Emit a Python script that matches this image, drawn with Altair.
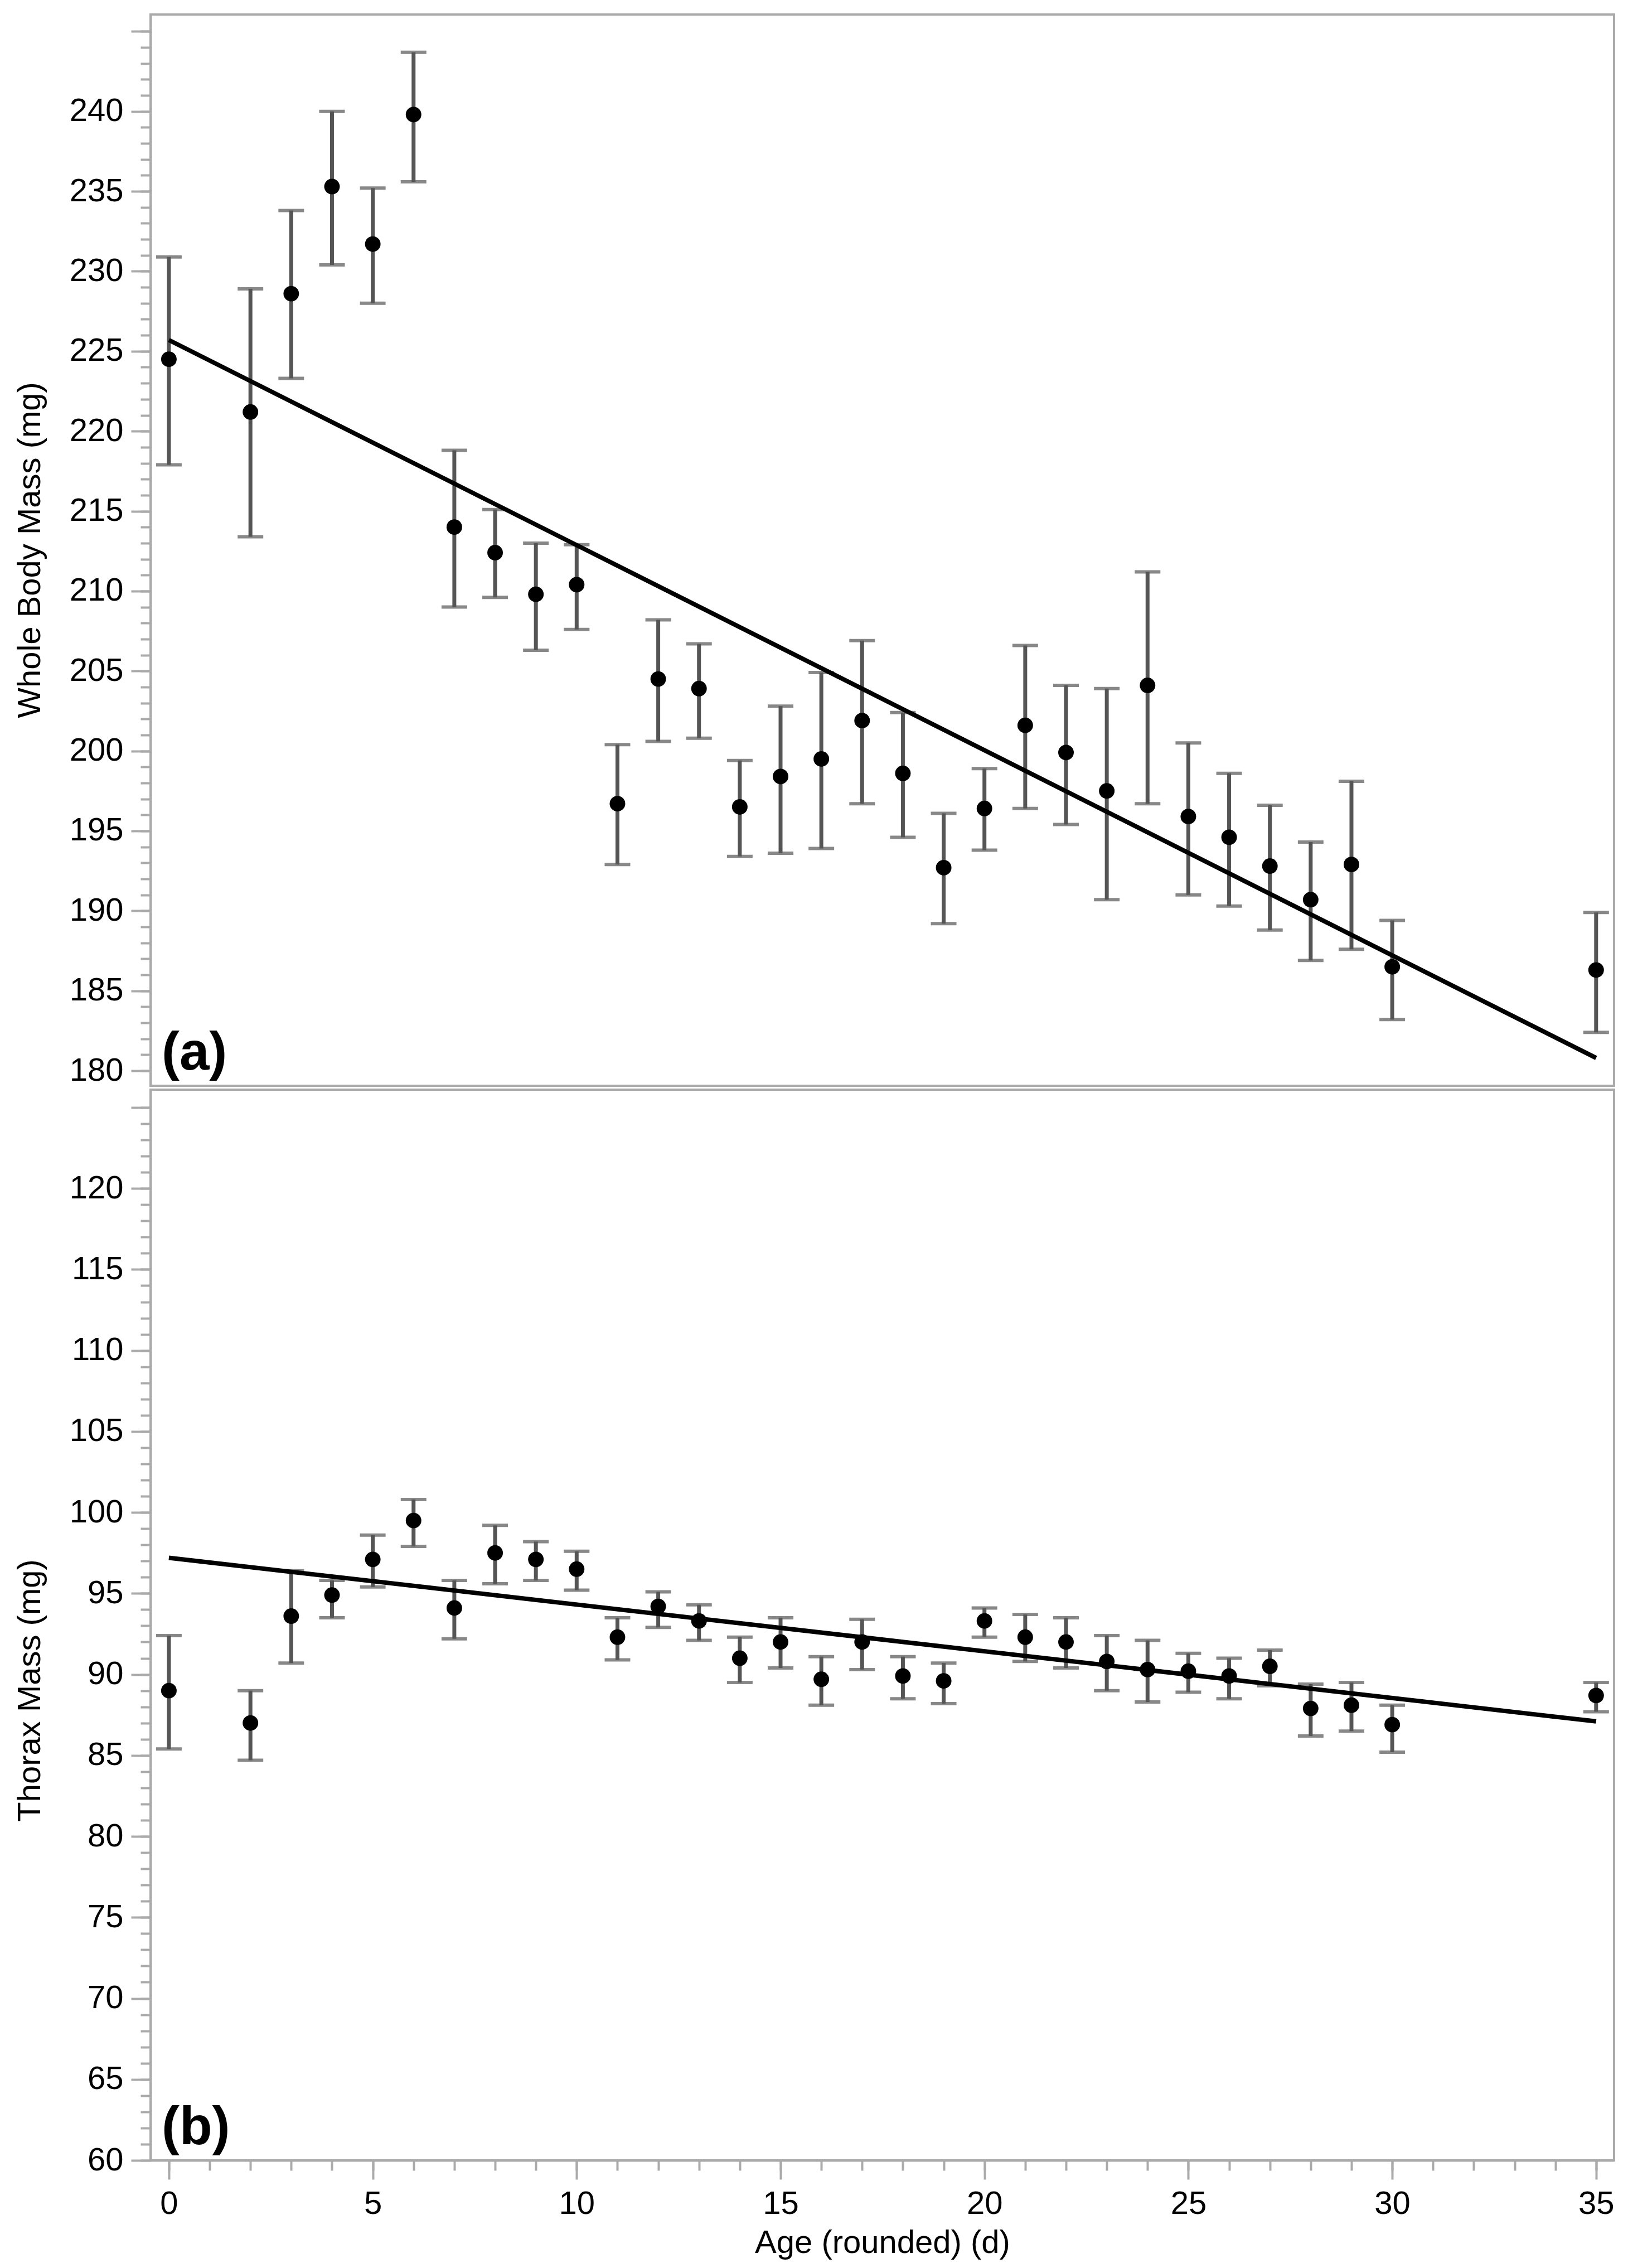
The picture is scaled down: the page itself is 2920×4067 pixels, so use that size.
import altair as alt
import pandas as pd

# ---- data ----
age = [0, 2, 3, 4, 5, 6, 7, 8, 9, 10, 11, 12, 13, 14, 15, 16, 17, 18, 19, 20,
       21, 22, 23, 24, 25, 26, 27, 28, 29, 30, 35]

whole_mean = [224.5, 221.2, 228.6, 235.3, 231.7, 239.8, 214.0, 212.4, 209.8, 210.4,
              196.7, 204.5, 203.9, 196.5, 198.4, 199.5, 201.9, 198.6, 192.7, 196.4,
              201.6, 199.9, 197.5, 204.1, 195.9, 194.6, 192.8, 190.7, 192.9, 186.5, 186.3]
whole_lo = [217.9, 213.4, 223.3, 230.4, 228.0, 235.6, 209.0, 209.6, 206.3, 207.6,
            192.9, 200.6, 200.8, 193.4, 193.6, 193.9, 196.7, 194.6, 189.2, 193.8,
            196.4, 195.4, 190.7, 196.7, 191.0, 190.3, 188.8, 186.9, 187.6, 183.2, 182.4]
whole_hi = [230.9, 228.9, 233.8, 240.0, 235.2, 243.7, 218.8, 215.1, 213.0, 212.9,
            200.4, 208.2, 206.7, 199.4, 202.8, 204.9, 206.9, 202.4, 196.1, 198.9,
            206.6, 204.1, 203.9, 211.2, 200.5, 198.6, 196.6, 194.3, 198.1, 189.4, 189.9]

thorax_mean = [89.0, 87.0, 93.6, 94.9, 97.1, 99.5, 94.1, 97.5, 97.1, 96.5,
               92.3, 94.2, 93.3, 91.0, 92.0, 89.7, 92.0, 89.9, 89.6, 93.3,
               92.3, 92.0, 90.8, 90.3, 90.2, 89.9, 90.5, 87.9, 88.1, 86.9, 88.7]
thorax_lo = [85.4, 84.7, 90.7, 93.5, 95.4, 97.9, 92.2, 95.6, 95.8, 95.2,
             90.9, 92.9, 92.1, 89.5, 90.4, 88.1, 90.3, 88.5, 88.2, 92.3,
             90.8, 90.4, 89.0, 88.3, 88.9, 88.5, 89.3, 86.2, 86.5, 85.2, 87.7]
thorax_hi = [92.4, 89.0, 96.4, 95.8, 98.6, 100.8, 95.8, 99.2, 98.2, 97.6,
             93.5, 95.1, 94.3, 92.3, 93.5, 91.1, 93.4, 91.1, 90.7, 94.1,
             93.7, 93.5, 92.4, 92.1, 91.3, 91.0, 91.5, 89.4, 89.5, 88.1, 89.5]

fit_age = [0, 35]
fit_whole = [225.7, 180.8]
fit_thorax = [97.2, 87.1]

x_major = list(range(0, 36, 5))
x_minor = list(range(0, 36))
top_major = list(range(180, 246, 5))
top_minor = list(range(179, 246))
bot_major = list(range(60, 126, 5))
bot_minor = list(range(60, 126))

# ---- layout constants ----
W = 2625
H_TOP = 1921
H_BOT = 1920
FONT = "Liberation Sans"
AX = "#aaaaaa"
BAR = "#555555"

x_dom = [-0.45, 35.44]
top_dom = [179.06, 246.06]
bot_dom = [60, 126.1]


def panel(mean, lo, hi, fit, ydom, ymajor, yminor, label_max, ytitle, title_y,
          height, tag, show_x):
    df = pd.DataFrame({"age": age, "mean": mean, "lo": lo, "hi": hi})
    fdf = pd.DataFrame({"age": fit_age, "fit": fit})
    xs = alt.Scale(domain=x_dom, nice=False, zero=False)
    ys = alt.Scale(domain=ydom, nice=False, zero=False)

    if show_x:
        x_main_axis = alt.Axis(values=x_major, tickSize=34, tickWidth=4, tickColor=AX,
                               domainColor=AX, domainWidth=4, labelPadding=15,
                               labelFont=FONT, labelFontSize=58, labelColor="black",
                               title="Age (rounded) (d)", titleFont=FONT, titleFontSize=58,
                               titleFontWeight="normal", titleColor="black",
                               titleBaseline="alphabetic", titleY=165, grid=False,
                               orient="bottom")
        x_minor_axis = alt.Axis(values=x_minor, tickSize=18, tickWidth=4, tickColor=AX,
                                domain=False, labels=False, title=None, grid=False,
                                orient="bottom")
    else:
        x_main_axis = None
        x_minor_axis = None

    y_main_axis = alt.Axis(values=ymajor, tickSize=35, tickWidth=4, tickColor=AX,
                           domainColor=AX, domainWidth=4, labelPadding=14,
                           labelFont=FONT, labelFontSize=58, labelColor="black",
                           labelExpr=f"datum.value <= {label_max} ? datum.label : ''",
                           title=ytitle, titleFont=FONT, titleFontSize=58,
                           titleFontWeight="normal", titleColor="black",
                           titleX=-187, titleY=title_y, grid=False, orient="left")
    y_minor_axis = alt.Axis(values=yminor, tickSize=18, tickWidth=4, tickColor=AX,
                            domain=False, labels=False, title=None, grid=False,
                            orient="left")

    base = alt.Chart(df)
    bars = base.mark_rule(color=BAR, strokeWidth=7).encode(
        x=alt.X("age:Q", scale=xs, axis=None),
        y=alt.Y("lo:Q", scale=ys, axis=None),
        y2="hi:Q",
    )
    cap_lo = base.mark_tick(color=BAR, orient="horizontal", size=46, thickness=6).encode(
        x=alt.X("age:Q", scale=xs, axis=None),
        y=alt.Y("lo:Q", scale=ys, axis=None),
    )
    cap_hi = base.mark_tick(color=BAR, orient="horizontal", size=46, thickness=6).encode(
        x=alt.X("age:Q", scale=xs, axis=None),
        y=alt.Y("hi:Q", scale=ys, axis=None),
    )
    line = alt.Chart(fdf).mark_line(color="black", strokeWidth=8, clip=True).encode(
        x=alt.X("age:Q", scale=xs, axis=x_minor_axis),
        y=alt.Y("fit:Q", scale=ys, axis=y_minor_axis),
    )
    pts = base.mark_circle(color="black", opacity=1, size=780).encode(
        x=alt.X("age:Q", scale=xs, axis=x_main_axis),
        y=alt.Y("mean:Q", scale=ys, axis=y_main_axis),
    )
    txt = alt.Chart(pd.DataFrame({"t": [tag]})).mark_text(
        font=FONT, fontSize=96, fontWeight="bold", align="left",
        baseline="alphabetic", color="black"
    ).encode(x=alt.value(20), y=alt.value(height - 29), text="t:N")

    return alt.layer(bars, cap_lo, cap_hi, line, pts, txt).resolve_axis(
        x="independent", y="independent"
    ).properties(width=W, height=height)


top = panel(whole_mean, whole_lo, whole_hi, fit_whole, top_dom, top_major, top_minor,
            240, "Whole Body Mass (mg)", 960, H_TOP, "(a)", False)
bot = panel(thorax_mean, thorax_lo, thorax_hi, fit_thorax, bot_dom, bot_major, bot_minor,
            120, "Thorax Mass (mg)", 1077, H_BOT, "(b)", True)

chart = alt.vconcat(top, bot, spacing=0).properties(
    padding={"left": 15, "top": 16, "right": 5, "bottom": 2},
    background="white",
).configure_view(stroke=AX, strokeWidth=4)

chart.save("out.html", embed_options={"renderer": "svg", "actions": False})
